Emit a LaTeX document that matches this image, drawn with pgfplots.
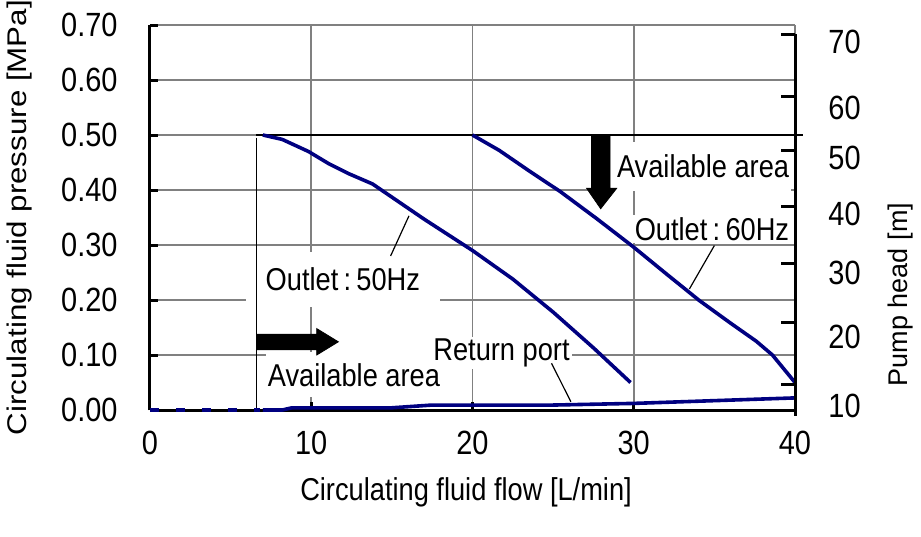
\documentclass[border=0pt]{standalone}
\usepackage{fontspec}
\setmainfont{Liberation Sans}
\newfontfamily\sq[FakeStretch=0.862]{Liberation Sans}
\newfontfamily\rt[FakeStretch=1.16]{Liberation Sans}
\usepackage{pgfplots}
\pgfplotsset{compat=1.18}
\definecolor{navy}{RGB}{0,0,128}
\definecolor{gridgray}{RGB}{128,128,128}
\newcommand{\txt}{\sq\fontsize{15.8}{18}\selectfont}
\newcommand{\tck}{\sq\fontsize{16.8}{19}\selectfont}
\newcommand{\rot}{\rt\fontsize{13.5}{16}\selectfont}
\newcommand{\rotb}{\rmfamily\fontsize{13.5}{16}\selectfont}
\begin{document}
\begin{tikzpicture}[font=\txt]
\begin{axis}[
  at={(0,0)}, anchor=origin,
  scale only axis, width=322.5pt, height=192.5pt,
  xmin=0, xmax=40, ymin=0, ymax=0.7,
  xtick={0,10,20,30,40},
  ytick={0,0.1,0.2,0.3,0.4,0.5,0.6,0.7},
  axis x line*=bottom, axis y line*=left,
  axis line style={line width=1.5pt, -},
  tick align=inside,
  major tick length=4pt,
  tick style={black, line width=1.5pt},
  grid=major,
  major grid style={gridgray, line width=0.75pt},
  /pgf/number format/assume math mode=true,
  tick label style={font=\tck},
  yticklabel style={/pgf/number format/fixed, /pgf/number format/fixed zerofill, /pgf/number format/precision=2, anchor=east, inner xsep=0pt, xshift=-16pt},
  xticklabel style={anchor=center, yshift=-16.5pt},
  xlabel={Circulating fluid flow [L/min]},
  ylabel={Circulating fluid pressure [MPa]},
  xlabel style={at={(axis description cs:0.49,-0.213)}, anchor=center},
  ylabel style={at={(axis description cs:-0.2016,0.5)}, anchor=center, font=\rot},
  clip=false,
]
% text boxes (white background)
\node[fill=white, inner xsep=1pt, inner ysep=5.5pt] at (axis cs:12.65,0.064) {Available area};
\node[fill=white, inner xsep=1pt, inner ysep=6.5pt] at (axis cs:34.3,0.443) {Available area};
\node[fill=white, inner xsep=10pt, inner ysep=8pt] at (axis cs:11.96,0.237) {Outlet\,:\,50Hz};
\node[fill=white, inner sep=1pt] at (axis cs:34.85,0.329) {Outlet\,:\,60Hz};
\node[fill=white, inner xsep=1pt, inner ysep=1pt] at (axis cs:21.8,0.104) {Return port};
% limit lines
\addplot[black, line width=0.9pt] coordinates {(6.6,0.5) (40.5,0.5)};
\addplot[black, line width=0.7pt] coordinates {(6.6,0.495) (6.6,0)};
% arrows
\addplot[black, fill=black] coordinates {(6.6,0.1094) (10.34,0.1094) (10.34,0.100) (11.68,0.124) (10.34,0.148) (10.34,0.1375) (6.6,0.1375)} -- cycle;
\addplot[black, fill=black] coordinates {(27.38,0.5) (28.53,0.5) (28.53,0.403) (28.94,0.403) (27.95,0.366) (27.08,0.403) (27.38,0.403)} -- cycle;
% curves
\addplot[navy, line width=1.8pt] coordinates {
 (7.0,0.500) (8.2,0.492) (9.83,0.470) (11.08,0.448) (12.3,0.430) (13.8,0.411) (14.4,0.399)
 (17.0,0.347) (20.0,0.290) (22.5,0.238) (25.0,0.178) (27.5,0.113) (29.8,0.050)};
\addplot[navy, line width=1.8pt] coordinates {
 (20.0,0.500) (21.66,0.472) (23.5,0.435) (25.45,0.397) (27.7,0.348) (30.0,0.296) (32.0,0.248)
 (34.07,0.199) (36.0,0.158) (37.6,0.125) (38.6,0.100) (40.0,0.050)};
\addplot[navy, line width=1.8pt] coordinates {
 (7.0,0.0) (8.2,0.0) (8.8,0.004) (15.0,0.004) (17.5,0.009) (25.0,0.009) (30.0,0.012) (35.0,0.017) (40.0,0.022)};
\addplot[navy, line width=1.8pt, dash pattern=on 4.5pt off 8.5pt] coordinates {(0,0) (6.8,0)};
% leader lines
\addplot[black, line width=0.6pt] coordinates {(14.92,0.280) (16.06,0.353)};
\addplot[black, line width=0.6pt] coordinates {(35.0,0.299) (33.45,0.220)};
\addplot[black, line width=0.6pt] coordinates {(24.9,0.085) (26.1,0.015)};
\end{axis}
\begin{axis}[
  at={(0,0)}, anchor=origin,
  scale only axis, width=322.5pt, height=192.5pt,
  xmin=0, xmax=40, ymin=0, ymax=0.7,
  axis x line=none, axis y line*=right,
  y axis line style={draw=none},
  ytick={0.047,0.160,0.267,0.370,0.471,0.570,0.683},
  yticklabels={},
  tick align=inside,
  major tick length=7pt,
  tick style={black, line width=1.5pt},
  ylabel={Pump head [m]},
  ylabel style={at={(axis description cs:1.163,0.30)}, anchor=center, font=\rotb},
  clip=false,
]
\draw[line width=1.5pt] (axis cs:40,0.683) -- (axis cs:40,-0.01);
\node[anchor=west, inner xsep=0pt, xshift=16.5pt, font=\tck] at (axis cs:40,0.669) {70};
\node[anchor=west, inner xsep=0pt, xshift=16.5pt, font=\tck] at (axis cs:40,0.550) {60};
\node[anchor=west, inner xsep=0pt, xshift=16.5pt, font=\tck] at (axis cs:40,0.459) {50};
\node[anchor=west, inner xsep=0pt, xshift=16.5pt, font=\tck] at (axis cs:40,0.356) {40};
\node[anchor=west, inner xsep=0pt, xshift=16.5pt, font=\tck] at (axis cs:40,0.250) {30};
\node[anchor=west, inner xsep=0pt, xshift=16.5pt, font=\tck] at (axis cs:40,0.132) {20};
\node[anchor=west, inner xsep=0pt, xshift=16.5pt, font=\tck] at (axis cs:40,0.008) {10};
\end{axis}
\pgfresetboundingbox
\useasboundingbox (-75pt,-63pt) rectangle (385.5pt,205pt);
\end{tikzpicture}
\end{document}
